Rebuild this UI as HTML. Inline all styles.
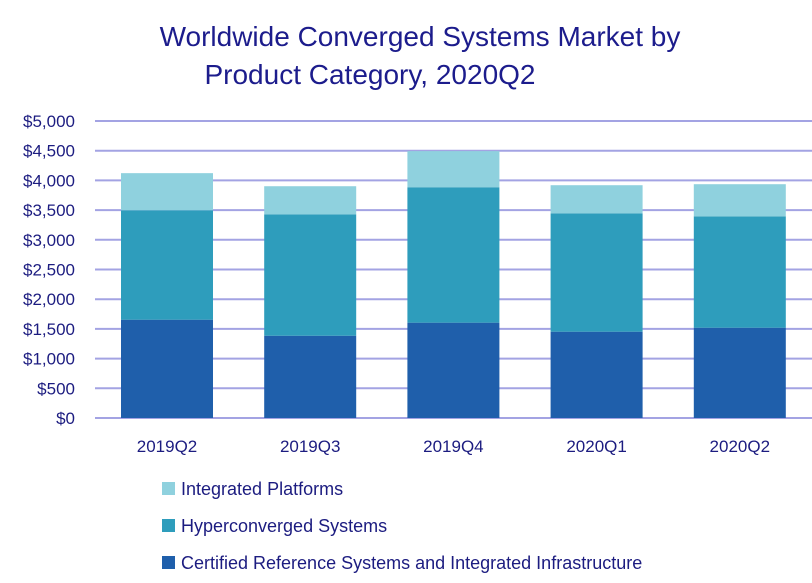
<!DOCTYPE html>
<html><head><meta charset="utf-8"><style>
body{margin:0;background:#fff;width:812px;height:578px;overflow:hidden;font-family:"Liberation Sans",sans-serif}
</style></head><body>
<svg id="chart" width="812" height="578" xmlns="http://www.w3.org/2000/svg">
<text x="420" y="46" text-anchor="middle" font-size="28" fill="#1c1c8c">Worldwide Converged Systems Market by</text>
<text x="370" y="84" text-anchor="middle" font-size="28" fill="#1c1c8c">Product Category, 2020Q2</text>
<g id="grid"></g><g id="bars"></g><g id="labels"></g><g id="legend"></g>
</svg>
<script>
const categories=["2019Q2","2019Q3","2019Q4","2020Q1","2020Q2"];
const certified=[1655,1385,1605,1453,1520];
const hyperconverged=[1842,2044,2280,1993,1875];
const integrated=[625,473,608,473,541];
const yTicks=[0,500,1000,1500,2000,2500,3000,3500,4000,4500,5000];
const tickLabels=["$0","$500","$1,000","$1,500","$2,000","$2,500","$3,000","$3,500","$4,000","$4,500","$5,000"];
const seriesNames=["Integrated Platforms","Hyperconverged Systems","Certified Reference Systems and Integrated Infrastructure"];
const colors=["#8fd1de","#2e9dbc","#1f5fab"];
const NS="http://www.w3.org/2000/svg";
const y0=418,yTop=121,yMax=5000;
const y=v=>y0-(v/yMax)*(y0-yTop);
const xStart=95,slot=143.2,barW=92;
const x=i=>121+i*slot;
function mk(tag,attrs,parent){const e=document.createElementNS(NS,tag);for(const k in attrs)e.setAttribute(k,attrs[k]);parent.appendChild(e);return e;}
const grid=document.getElementById('grid'),bars=document.getElementById('bars'),labels=document.getElementById('labels'),legend=document.getElementById('legend');
yTicks.forEach((t,i)=>{
 const l=mk('line',{x1:xStart,x2:812,y1:y(t),y2:y(t),stroke:'#a3a3e3','stroke-width':2},grid);
 
 
 const tx=mk('text',{x:75,y:y(t)+6,'text-anchor':'end','font-size':17,fill:'#1c1c80'},labels);
 tx.textContent=tickLabels[i];
 
 
});
const series=[certified,hyperconverged,integrated];
const segColors=[colors[2],colors[1],colors[0]];
const segNames=['certified','hyperconverged','integrated'];
categories.forEach((c,i)=>{
 let base=0;
 series.forEach((s,j)=>{
  const top=base+s[i];
  const r=mk('rect',{x:x(i),y:y(top),width:barW,height:y(base)-y(top),fill:segColors[j]},bars);
  
  
  base=top;
 });
 const tx=mk('text',{x:x(i)+barW/2,y:452,'text-anchor':'middle','font-size':17,fill:'#1c1c80'},labels);
 tx.textContent=c;
 
 
});
seriesNames.forEach((n,i)=>{
 const yy=489+i*37;
 const r=mk('rect',{x:162,y:yy-7,width:13,height:13,fill:colors[i]},legend);
 
 
 const t=mk('text',{x:181,y:yy+6,'font-size':18,fill:'#1c1c80'},legend);
 t.textContent=n;
 
 
});
</script>
</body></html>
